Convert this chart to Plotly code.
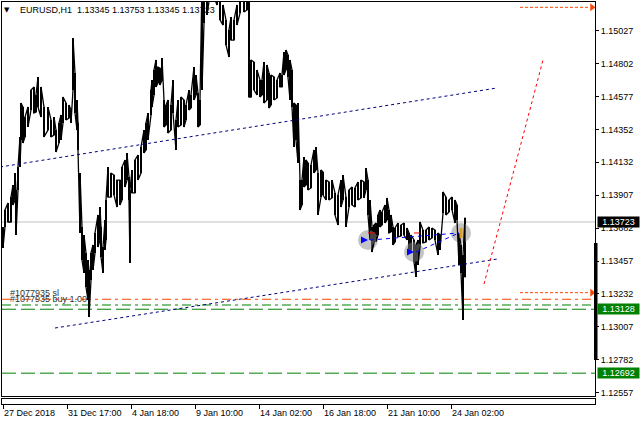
import plotly.graph_objects as go

# ---------------- data ----------------
bar_index = [
    0, 2, 5, 8, 10, 12, 13, 15, 17, 18,
    20, 22, 25, 28, 31, 33, 35, 38, 41, 45,
    48, 51, 53, 56, 58, 60, 63, 66, 68, 70,
    72, 74, 75, 77, 79, 81, 83, 85, 86, 88,
    90, 92, 95, 97, 98, 100, 102, 103, 105, 108,
    111, 114, 117, 119, 122, 124, 126, 127, 129, 132,
    135, 138, 141, 143, 145, 148, 149, 151, 153, 155,
    157, 159, 161, 163, 165, 168, 170, 173, 175, 178,
    181, 183, 186, 188, 191, 193, 195, 197, 199, 201,
    204, 207, 211, 214, 217, 220, 223, 226, 228, 231,
    234, 237, 241, 244, 246, 248, 251, 254, 257, 259,
    261, 264, 266, 268, 271, 274, 277, 279, 281, 283,
    285, 287, 289, 291, 293, 295, 297, 299, 301, 303,
    305, 308, 311, 313, 315, 318, 320, 323, 326, 329,
    332, 335, 338, 340, 343, 346, 349, 352, 355, 358,
    361, 363, 365, 367, 369, 371, 373, 375, 377, 379,
    382, 384, 386, 388, 390, 392, 395, 398, 401, 404,
    406, 408, 411, 413, 415, 417, 420, 423, 426, 429,
    432, 435, 437, 440, 443, 446, 449, 452, 454, 456,
    458, 460, 462,
]
bar_high = [
    1.13689, 1.13805, 1.13853, 1.13893, 1.13975, 1.14057, 1.13941, 1.14098, 1.14303, 1.14535,
    1.14507, 1.14439, 1.14507, 1.14623, 1.14644, 1.14589, 1.14712, 1.14644, 1.14507, 1.14507,
    1.14419, 1.14439, 1.14350, 1.14398, 1.14453, 1.14575, 1.14535, 1.14521, 1.14487, 1.14978,
    1.14739, 1.14555, 1.14398, 1.14057, 1.13689, 1.13634, 1.13512, 1.13464, 1.13396, 1.13512,
    1.13566, 1.13648, 1.13771, 1.13825, 1.13689, 1.13552, 1.13737, 1.13873, 1.14098, 1.14057,
    1.14043, 1.14009, 1.14009, 1.14098, 1.14146, 1.14194, 1.14030, 1.13941, 1.14078, 1.14146,
    1.14180, 1.14234, 1.14350, 1.14398, 1.14466, 1.14623, 1.14691, 1.14760, 1.14828, 1.14780,
    1.14773, 1.14841, 1.14555, 1.14521, 1.14555, 1.14521, 1.14691, 1.14419, 1.14555, 1.14575,
    1.14555, 1.14521, 1.14623, 1.14589, 1.14780, 1.14725, 1.14603, 1.14555, 1.15373, 1.15237,
    1.15339, 1.15442, 1.15408, 1.15373, 1.15237, 1.15203, 1.15101, 1.15032, 1.15121, 1.15101,
    1.15203, 1.15305, 1.15271, 1.15292, 1.15237, 1.14828, 1.14814, 1.14760, 1.14691, 1.14691,
    1.14814, 1.14794, 1.14739, 1.14725, 1.14712, 1.14691, 1.14739, 1.14725, 1.14882, 1.14896,
    1.14862, 1.14828, 1.14760, 1.14535, 1.14521, 1.14535, 1.14009, 1.14009, 1.14166, 1.14146,
    1.14125, 1.14112, 1.14214, 1.14234, 1.14057, 1.14078, 1.14064, 1.14009, 1.13996, 1.14009,
    1.13921, 1.13907, 1.14009, 1.14043, 1.13893, 1.13941, 1.13962, 1.13955, 1.13996, 1.14009,
    1.13996, 1.14091, 1.14009, 1.13873, 1.13689, 1.13702, 1.13716, 1.13771, 1.13805, 1.13791,
    1.13839, 1.13887, 1.13805, 1.13771, 1.13689, 1.13682, 1.13716, 1.13702, 1.13716, 1.13682,
    1.13648, 1.13634, 1.13600, 1.13566, 1.13600, 1.13723, 1.13668, 1.13668, 1.13689, 1.13682,
    1.13668, 1.13648, 1.13634, 1.13928, 1.13893, 1.13873, 1.13893, 1.13873, 1.13839, 1.13648,
    1.13566, 1.13498, 1.13753,
]
bar_low = [
    1.13546, 1.13689, 1.13723, 1.13723, 1.13839, 1.13873, 1.13634, 1.13941, 1.14098, 1.14282,
    1.14262, 1.14303, 1.14371, 1.14487, 1.14466, 1.14473, 1.14507, 1.14439, 1.14303, 1.14350,
    1.14303, 1.14316, 1.14200, 1.14262, 1.14282, 1.14398, 1.14419, 1.14432, 1.14398, 1.14623,
    1.14466, 1.14350, 1.14214, 1.13648, 1.13464, 1.13375, 1.13280, 1.13191, 1.13075, 1.13327,
    1.13396, 1.13512, 1.13552, 1.13600, 1.13484, 1.13375, 1.13532, 1.13600, 1.13893, 1.13893,
    1.13907, 1.13825, 1.13839, 1.13873, 1.13962, 1.14009, 1.13873, 1.13443, 1.13921, 1.13921,
    1.14009, 1.14057, 1.14194, 1.14214, 1.14282, 1.14453, 1.14507, 1.14589, 1.14644, 1.14671,
    1.14657, 1.14691, 1.14371, 1.14384, 1.14330, 1.14350, 1.14466, 1.14214, 1.14371, 1.14384,
    1.14371, 1.14419, 1.14487, 1.14500, 1.14555, 1.14589, 1.14371, 1.14384, 1.14623, 1.15080,
    1.15135, 1.15271, 1.15257, 1.15203, 1.15101, 1.15066, 1.14930, 1.14848, 1.14964, 1.14964,
    1.15066, 1.15148, 1.15155, 1.15169, 1.14575, 1.14575, 1.14623, 1.14589, 1.14575, 1.14589,
    1.14535, 1.14555, 1.14500, 1.14521, 1.14555, 1.14569, 1.14644, 1.14644, 1.14725, 1.14760,
    1.14712, 1.14555, 1.14507, 1.14234, 1.14282, 1.14125, 1.13805, 1.13839, 1.13962, 1.13975,
    1.13941, 1.13955, 1.14057, 1.14078, 1.13771, 1.13893, 1.13907, 1.13873, 1.13873, 1.13887,
    1.13771, 1.13702, 1.13825, 1.13873, 1.13689, 1.13825, 1.13839, 1.13825, 1.13873, 1.13887,
    1.13887, 1.13941, 1.13771, 1.13600, 1.13518, 1.13580, 1.13587, 1.13634, 1.13689, 1.13702,
    1.13716, 1.13737, 1.13648, 1.13655, 1.13566, 1.13587, 1.13621, 1.13627, 1.13634, 1.13600,
    1.13512, 1.13532, 1.13450, 1.13348, 1.13430, 1.13552, 1.13580, 1.13587, 1.13600, 1.13614,
    1.13600, 1.13498, 1.13532, 1.13784, 1.13771, 1.13791, 1.13805, 1.13716, 1.13737, 1.13430,
    1.13375, 1.13055, 1.13345,
]
assert len(bar_index) == len(bar_high) == len(bar_low)

tick_bars = [0, 64, 128, 192, 256, 320, 384, 448]
tick_labels = ["27 Dec 2018", "31 Dec 17:00", "4 Jan 18:00", "9 Jan 10:00",
               "14 Jan 02:00", "16 Jan 18:00", "21 Jan 10:00", "24 Jan 02:00"]
price_ticks = [1.15027, 1.14802, 1.14577, 1.14352, 1.14132, 1.13907,
               1.13682, 1.13457, 1.13232, 1.13007, 1.12782, 1.12557]
title_text = "EURUSD,H1  1.13345 1.13753 1.13345 1.13723"
bid_price = 1.13723
sl_price = 1.13196
buy_price = 1.13157
level_prices = [1.13128, 1.12692]
order_labels = ["#1077935 sl", "#1077935 buy 1.00"]

upper_x, upper_y = [-3, 494], [1.14098, 1.14637]
lower_x, lower_y = [52, 495], [1.13000, 1.13471]
red_x, red_y = [481, 540], [1.13300, 1.14828]
arrow_x = [517, 587]
arrow_levels = [1.15187, 1.13241]
circle_x = [365, 411, 458]
circle_y = [1.13600, 1.13518, 1.13648]
zig_a_x, zig_a_y = [367, 456], [1.13600, 1.13648]
zig_b_x, zig_b_y = [413, 456], [1.13518, 1.13648]
stop_marks_x = [[365, 372], [411, 417]]
stop_mark_price = 1.13648
scale_bar = [1.12782, 1.13580]

# ---------------- layout helpers ----------------
W, H = 641, 425
ML, MR, MT, MB = 2, 46, 2, 21
PW, PH = W - ML - MR, H - MT - MB


def px(x):
    return (x - ML) / PW


def py(y):
    return (H - MB - y) / PH


FONT = "Liberation Sans, Arial, sans-serif"
ORANGE = "#ff4500"
GREEN = "#008000"
NAVY = "#000080"

fig = go.Figure()

# gray circles (below price)
fig.add_trace(go.Scatter(x=circle_x, y=circle_y, mode="markers",
                         marker=dict(size=20, color="#c4c4c4", line=dict(width=0)),
                         hoverinfo="skip", showlegend=False))

# price bars: high-low spans plus a connecting zigzag
fig.add_trace(go.Bar(x=bar_index, y=[h - l for h, l in zip(bar_high, bar_low)],
                     base=bar_low, width=1.4,
                     marker=dict(color="black", line=dict(width=0)),
                     hoverinfo="skip", showlegend=False))
zx, zy = [], []
for k, (b, h, l) in enumerate(zip(bar_index, bar_high, bar_low)):
    zx += [b, b]
    zy += [h, l] if k % 2 == 0 else [l, h]
fig.add_trace(go.Scatter(x=zx, y=zy, mode="lines",
                         line=dict(color="black", width=1.3),
                         hoverinfo="skip", showlegend=False))

# channel lines
for lx, ly in [(upper_x, upper_y), (lower_x, lower_y)]:
    fig.add_trace(go.Scatter(x=lx, y=ly, mode="lines",
                             line=dict(color=NAVY, width=1, dash="3px,3px"),
                             hoverinfo="skip", showlegend=False))
# red dotted line
fig.add_trace(go.Scatter(x=red_x, y=red_y, mode="lines",
                         line=dict(color="#ff0000", width=1, dash="3px,3px"),
                         hoverinfo="skip", showlegend=False))
# blue dashed zigzag between circles
for lx, ly in [(zig_a_x, zig_a_y), (zig_b_x, zig_b_y)]:
    fig.add_trace(go.Scatter(x=lx, y=ly, mode="lines",
                             line=dict(color="#0000ff", width=1, dash="4px,4px"),
                             hoverinfo="skip", showlegend=False))
# red short marks
for sx in stop_marks_x:
    fig.add_trace(go.Scatter(x=sx, y=[stop_mark_price] * 2, mode="lines",
                             line=dict(color="#ff0000", width=1),
                             hoverinfo="skip", showlegend=False))
# buy arrows
fig.add_trace(go.Scatter(x=circle_x[:2], y=circle_y[:2], mode="markers",
                         marker=dict(symbol="arrow-right", size=7, color="#0000ff"),
                         hoverinfo="skip", showlegend=False))
fig.add_trace(go.Scatter(x=circle_x[2:], y=circle_y[2:], mode="markers",
                         marker=dict(symbol="line-ns", size=7,
                                     line=dict(color="#e0a020", width=3)),
                         hoverinfo="skip", showlegend=False))
# orange arrows on the right
for lv in arrow_levels:
    fig.add_trace(go.Scatter(x=arrow_x, y=[lv, lv], mode="lines",
                             line=dict(color=ORANGE, width=1, dash="3px,2px"),
                             hoverinfo="skip", showlegend=False))
    fig.add_trace(go.Scatter(x=[arrow_x[1] + 2], y=[lv], mode="markers",
                             marker=dict(symbol="triangle-right", size=7, color=ORANGE),
                             hoverinfo="skip", showlegend=False))

# empty sub-window axis carrier
fig.add_trace(go.Scatter(x=[0], y=[-1], xaxis="x2", yaxis="y2", mode="markers",
                         marker=dict(size=1, color="rgba(0,0,0,0)"),
                         hoverinfo="skip", showlegend=False))

shapes = []


def hline(price, color, dash, width=1):
    shapes.append(dict(type="line", xref="paper", x0=0, x1=1, yref="y",
                       y0=price, y1=price, layer="below",
                       line=dict(color=color, width=width, dash=dash)))


hline(bid_price, "#c0c0c0", "solid")
hline(sl_price, ORANGE, "9px,4px,3px,4px")
hline(buy_price, GREEN, "9px,4px,3px,4px")
for lp in level_prices:
    hline(lp, GREEN, "14px,5px")

shapes.append(dict(type="rect", xref="paper", x0=px(594), x1=px(597.5),
                   yref="y", y0=scale_bar[0], y1=scale_bar[1],
                   fillcolor="black", line=dict(width=0), layer="above"))

annotations = []
annotations.append(dict(x=px(18), y=py(9.5), xref="paper", yref="paper",
                        text=title_text, showarrow=False, xanchor="left",
                        yanchor="middle", font=dict(family=FONT, size=9, color="black")))
annotations.append(dict(x=px(6.5), y=py(9.5), xref="paper", yref="paper",
                        text="▼", showarrow=False, xanchor="center",
                        yanchor="middle", font=dict(family="DejaVu Sans", size=7, color="black")))
for txt, yc in zip(order_labels, [293, 299]):
    annotations.append(dict(x=px(8), y=py(yc), xref="paper", yref="paper",
                            text=txt, showarrow=False, xanchor="left",
                            yanchor="middle", font=dict(family=FONT, size=9, color="#333333")))
for price, bg in [(bid_price, "black"), (level_prices[0], GREEN), (level_prices[1], GREEN)]:
    annotations.append(dict(x=px(596.5), y=price, xref="paper", yref="y",
                            text=f"{price:.5f}", showarrow=False, xanchor="left",
                            yanchor="middle", bgcolor=bg, width=38, height=7,
                            borderpad=1.5, align="center",
                            font=dict(family=FONT, size=9, color="white")))

fig.update_layout(
    width=W, height=H, autosize=False,
    margin=dict(l=ML, r=MR, t=MT, b=MB),
    paper_bgcolor="white", plot_bgcolor="white",
    showlegend=False, hovermode=False, bargap=0,
    shapes=shapes, annotations=annotations,
    xaxis=dict(domain=[0, 1], range=[-1, PW - 1], anchor="y",
               showline=True, mirror=True, linecolor="black", linewidth=1,
               showticklabels=False, ticks="", showgrid=False, zeroline=False),
    yaxis=dict(domain=[py(396), 1], range=[1.15237 - 0.0000682 * 396, 1.15237 - 0.0000682 * 2],
               side="right", anchor="x",
               showline=True, mirror=True, linecolor="black", linewidth=1,
               ticks="outside", ticklen=3, tickcolor="black", tickwidth=1,
               tickvals=price_ticks, ticktext=[f"{p:.5f}" for p in price_ticks],
               tickfont=dict(family=FONT, size=9, color="black"),
               showgrid=False, zeroline=False),
    xaxis2=dict(domain=[0, 1], matches="x", anchor="y2",
                showline=True, mirror=True, linecolor="black", linewidth=1,
                ticks="outside", ticklen=4, tickcolor="black", tickwidth=1,
                tickvals=tick_bars, ticktext=tick_labels,
                ticklabelposition="outside right",
                tickfont=dict(family=FONT, size=9, color="black"),
                showgrid=False, zeroline=False),
    yaxis2=dict(domain=[0, py(399)], range=[0, 1], anchor="x2", side="right",
                showline=True, mirror=True, linecolor="black", linewidth=1,
                showticklabels=False, ticks="", showgrid=False, zeroline=False),
)

fig.write_html("out.html", config={"displayModeBar": False},
               post_script="document.body.style.margin='0';document.body.style.padding='0';")
